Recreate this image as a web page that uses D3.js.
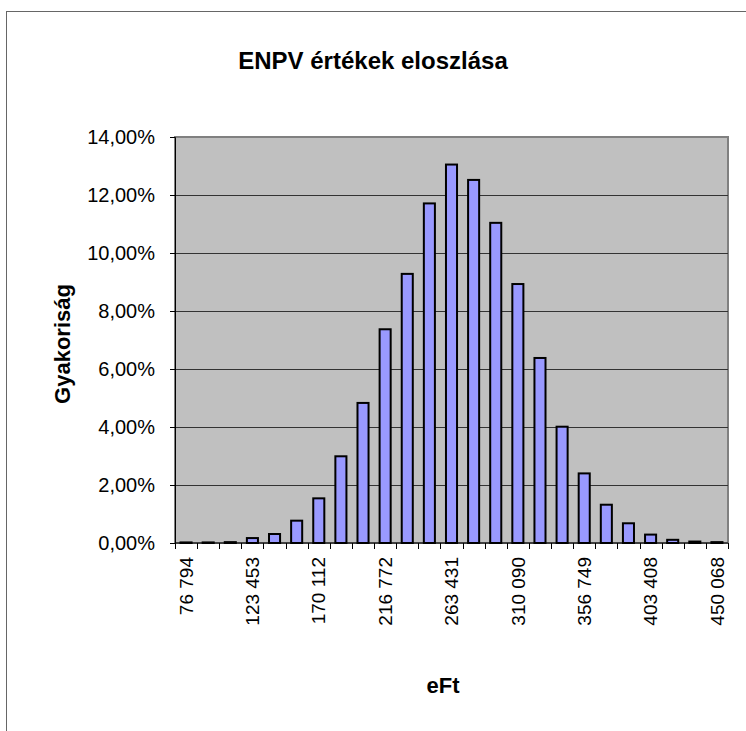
<!DOCTYPE html>
<html>
<head>
<meta charset="utf-8">
<script src="https://cdn.jsdelivr.net/npm/d3@7"></script>
<style>
  body { margin: 0; background: #fff; }
  text { font-family: "Liberation Sans", Arial, sans-serif; }
</style>
</head>
<body>
<div id="chart"></div>
<script>
// histogram bins (eFt) and relative frequencies
var categories = [76794, 92347, 107900, 123453, 139006, 154559, 170112, 185666, 201219,
	216772, 232325, 247878, 263431, 278984, 294537, 310090, 325643, 341196,
	356749, 372302, 387856, 403408, 418962, 434515, 450068];
var frequencies = [0.0002, 0.0002, 0.0003, 0.0017, 0.0031, 0.0077, 0.0154, 0.0299, 0.0483,
	0.0737, 0.0928, 0.1171, 0.1305, 0.1252, 0.1104, 0.0893, 0.0638, 0.0401,
	0.0240, 0.0132, 0.0068, 0.0029, 0.0011, 0.0005, 0.0003];
var yTicks = [0, 0.02, 0.04, 0.06, 0.08, 0.10, 0.12, 0.14];

var huLocale = d3.formatLocale({ decimal: ",", thousands: " ", grouping: [3], currency: ["", ""] });
var fmtPct = huLocale.format(".2%");
var fmtNum = huLocale.format(",d");

chart('#chart');

function chart(id) {
	var width = 746;
	var height = 731;
	var plot = { left: 175, top: 137, right: 728, bottom: 543 };

	var svg = d3.select(id).append("svg")
		.attr("width", width)
		.attr("height", height);

	// outer chart frame (runs off the page at right and bottom)
	svg.append("rect")
		.attr("x", 6.5).attr("y", 11.5)
		.attr("width", 800).attr("height", 800)
		.attr("fill", "#fff")
		.attr("stroke", "#666")
		.attr("stroke-width", 1);

	var x = d3.scaleBand()
		.domain(categories)
		.range([plot.left, plot.right])
		.paddingInner(0.5)
		.paddingOuter(0.25);

	var y = d3.scaleLinear()
		.domain([0, 0.14])
		.range([plot.bottom, plot.top]);

	// plot area
	svg.append("rect")
		.attr("x", plot.left).attr("y", plot.top)
		.attr("width", plot.right - plot.left)
		.attr("height", plot.bottom - plot.top)
		.attr("fill", "#C0C0C0")
		.attr("stroke", "#808080")
		.attr("stroke-width", 2);

	// gridlines
	svg.append("g")
		.selectAll("line")
		.data(yTicks.slice(1, -1))
		.join("line")
		.attr("x1", plot.left).attr("x2", plot.right)
		.attr("y1", function(d) { return Math.round(y(d)) + 0.5; })
		.attr("y2", function(d) { return Math.round(y(d)) + 0.5; })
		.attr("stroke", "#333")
		.attr("stroke-width", 1);

	// bars
	svg.append("g")
		.selectAll("rect")
		.data(frequencies)
		.join("rect")
		.attr("x", function(d, i) { return x(categories[i]); })
		.attr("y", function(d) { return y(d); })
		.attr("width", x.bandwidth())
		.attr("height", function(d) { return plot.bottom - y(d); })
		.attr("fill", "#9999FF")
		.attr("stroke", "#000")
		.attr("stroke-width", 2);

	// y axis
	var yAxis = svg.append("g")
		.attr("transform", "translate(" + plot.left + ",0)")
		.call(d3.axisLeft(y).tickValues(yTicks).tickFormat(fmtPct).tickSize(5).tickPadding(15));
	yAxis.select(".domain").attr("stroke", "#000");
	yAxis.selectAll(".tick line").attr("stroke", "#000");
	yAxis.selectAll("text")
		.attr("fill", "#000")
		.style("font-size", "20px")
		.style("font-family", "'Liberation Sans', Arial, sans-serif");

	// x axis: ticks between categories, every third label
	var step = x.step();
	var gx = svg.append("g");
	gx.append("line")
		.attr("x1", plot.left).attr("x2", plot.right)
		.attr("y1", plot.bottom).attr("y2", plot.bottom)
		.attr("stroke", "#000");
	var bounds = categories.map(function(c) { return x(c) + x.bandwidth() / 2 - step / 2; });
	bounds.push(bounds[bounds.length - 1] + step);
	gx.selectAll("line.tk")
		.data(bounds)
		.join("line")
		.attr("class", "tk")
		.attr("x1", function(d) { return Math.round(d) + 0.5; })
		.attr("x2", function(d) { return Math.round(d) + 0.5; })
		.attr("y1", plot.bottom).attr("y2", plot.bottom + 6)
		.attr("stroke", "#000");

	gx.selectAll("text")
		.data(categories.filter(function(c, i) { return i % 3 === 0; }))
		.join("text")
		.attr("transform", function(d) {
			return "translate(" + (x(d) + x.bandwidth() / 2) + "," + (plot.bottom + 14) + ") rotate(-90)";
		})
		.attr("text-anchor", "end")
		.attr("dy", "0.35em")
		.attr("fill", "#000")
		.style("font-size", "19px")
		.text(function(d) { return fmtNum(d); });

	// Title
	svg.append("text")
		.attr("x", 373).attr("y", 69)
		.attr("text-anchor", "middle")
		.attr("fill", "#000")
		.style("font-size", "24px")
		.style("font-weight", "bold")
		.text("ENPV értékek eloszlása");

	// axis titles
	svg.append("text")
		.attr("transform", "translate(70,344) rotate(-90)")
		.attr("text-anchor", "middle")
		.attr("fill", "#000")
		.style("font-size", "22px")
		.style("font-weight", "bold")
		.text("Gyakoriság");

	svg.append("text")
		.attr("x", 443).attr("y", 693)
		.attr("text-anchor", "middle")
		.attr("fill", "#000")
		.style("font-size", "22px")
		.style("font-weight", "bold")
		.text("eFt");
}
</script>
</body>
</html>
